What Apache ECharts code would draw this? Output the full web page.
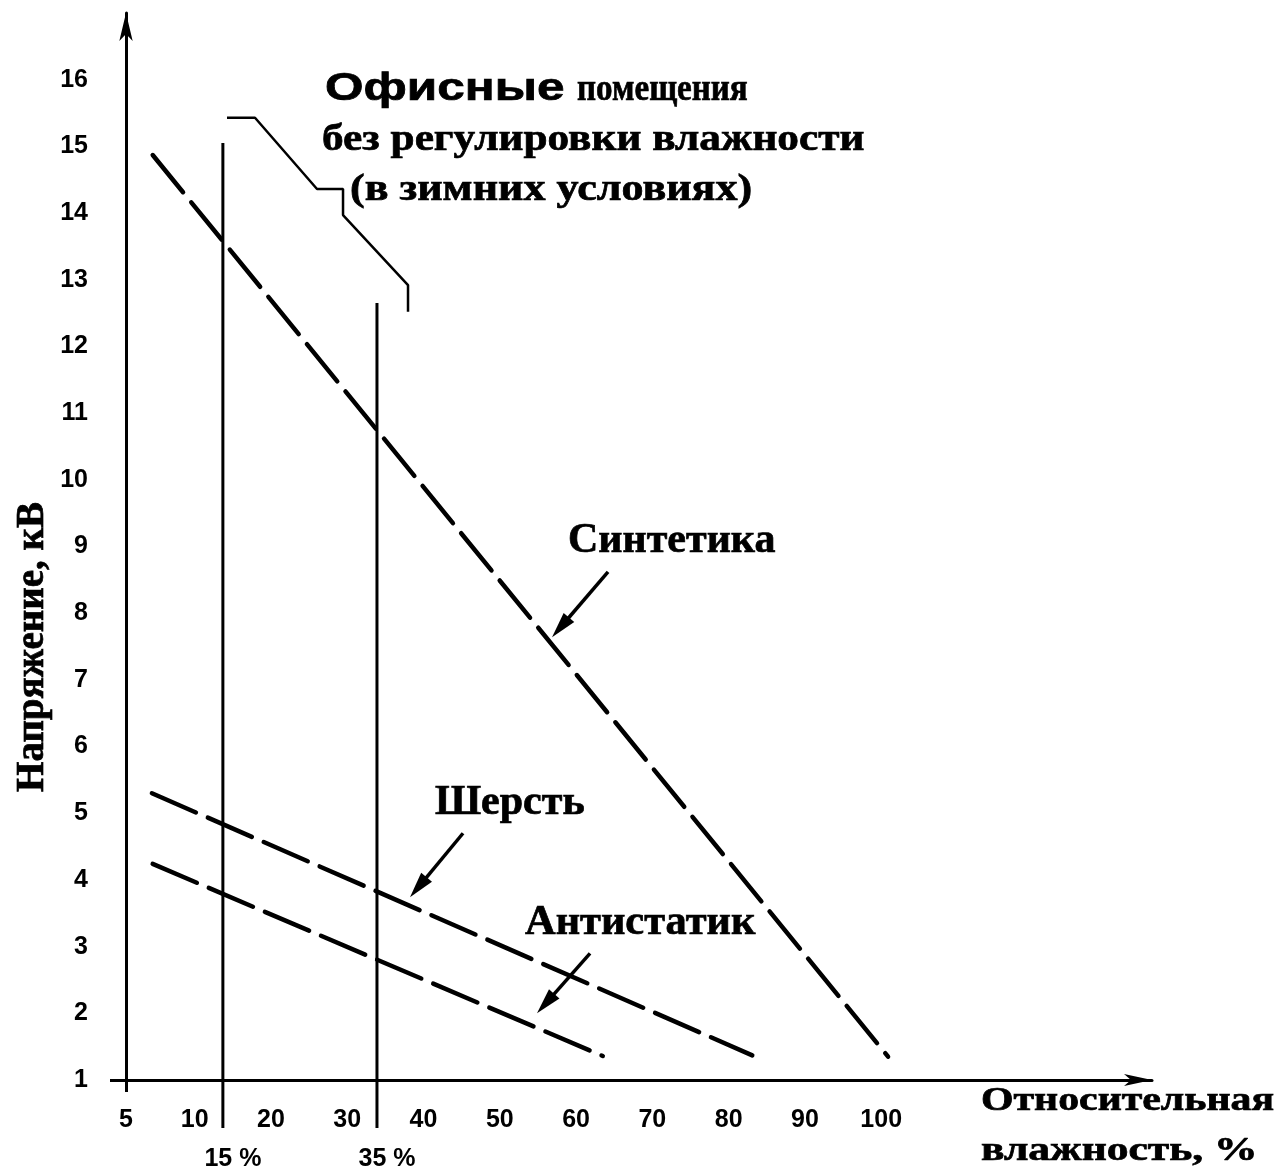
<!DOCTYPE html>
<html><head><meta charset="utf-8">
<script src="https://cdn.jsdelivr.net/npm/echarts@6/dist/echarts.min.js"></script>
<style>html,body{margin:0;padding:0;background:#fff}#c{width:1282px;height:1171px}</style>
</head><body><div id="c"></div>
<script>
// ---- axis ticks ----
const xTickValues = [1, 10, 20, 30, 40, 50, 60, 70, 80, 90, 100];
const xTickLabels = ['5', '10', '20', '30', '40', '50', '60', '70', '80', '90', '100'];
const yTickValues = [1, 2, 3, 4, 5, 6, 7, 8, 9, 10, 11, 12, 13, 14, 15, 16];

// ---- curves (x in axis units, y in kV) ----
const syntheticLine = [[4.5, 14.87], [100.9, 1.35]];
const woolLine = [[4.4, 5.30], [83.1, 1.37]];
const antistaticLine = [[4.5, 4.24], [63.5, 1.36]];

// ---- humidity markers ----
const markerLabels = ['15 %', '35 %'];
const markerX = [13.7, 33.9];
const markerTop = [15.05, 12.65];
const markerBottom = 0.28;

// ---- office bracket ----
const bracketLine = [[14.24, 15.43], [17.91, 15.43], [26.04, 14.36], [29.45, 14.36], [29.45, 13.97], [37.97, 12.92], [37.97, 12.52]];

// ---- pointer arrows (tail -> tip) ----
const arrowNames = ['Синтетика', 'Шерсть', 'Антистатик'];
const arrowTails = [[64.19, 8.62], [45.18, 4.70], [61.83, 2.90]];
const arrowTips = [[56.85, 7.64], [38.23, 3.74], [54.88, 2.00]];

const SERIF = "'Liberation Serif','Times New Roman',serif";
const SANS = "'Liberation Sans',Arial,sans-serif";

const chart = echarts.init(document.getElementById('c'), null, {renderer: 'canvas'});

const dashStyle = {color: '#000', width: 4.5, type: [48, 13], cap: 'round'};
function dashed(name, data) {
  return {name, type: 'line', data, showSymbol: false, symbol: 'none', lineStyle: dashStyle, silent: true, animation: false, z: 3};
}

const series = [
  dashed('Синтетика', syntheticLine),
  dashed('Шерсть', woolLine),
  dashed('Антистатик', antistaticLine)
];
markerX.forEach((x, i) => {
  series.push({name: markerLabels[i], type: 'line', clip: false, showSymbol: false, symbol: 'none', silent: true, animation: false,
    data: [[x, markerTop[i]], [x, markerBottom]], lineStyle: {color: '#000', width: 3}});
});
series.push({name: 'bracket', type: 'line', clip: false, showSymbol: false, symbol: 'none', silent: true, animation: false,
  data: bracketLine, lineStyle: {color: '#000', width: 2.5}});
series.push({
  name: 'arrows', type: 'custom', coordinateSystem: 'cartesian2d', clip: false, silent: true, animation: false,
  data: arrowTails.map((t, i) => [t[0], t[1], arrowTips[i][0], arrowTips[i][1]]),
  encode: {x: [0, 2], y: [1, 3]},
  renderItem: function (params, api) {
    const a = api.coord([api.value(0), api.value(1)]);
    const b = api.coord([api.value(2), api.value(3)]);
    const dx = b[0] - a[0], dy = b[1] - a[1];
    const L = Math.hypot(dx, dy);
    const ux = dx / L, uy = dy / L, px = -uy, py = ux;
    const headLen = 26, headW = 7;
    const base = [b[0] - ux * headLen, b[1] - uy * headLen];
    return {type: 'group', children: [
      {type: 'line', shape: {x1: a[0], y1: a[1], x2: base[0] + ux * 4, y2: base[1] + uy * 4}, style: {stroke: '#000', lineWidth: 3.5}},
      {type: 'polygon', shape: {points: [b, [base[0] + px * headW, base[1] + py * headW], [base[0] - px * headW, base[1] - py * headW]]}, style: {fill: '#000'}}
    ]};
  }
});

function txt(text, x, y, font, sx) {
  return {type: 'text', x, y, scaleX: sx || 1, silent: true,
    style: {text, font, fill: '#000', stroke: '#000', lineWidth: 0.7, align: 'left', verticalAlign: 'middle'}};
}

const graphics = [
  txt('Офисные', 325, 89, 'bold 39px ' + SANS, 1.27),
  txt('помещения', 577, 90, 'bold 38px ' + SERIF, 0.87),
  txt('без регулировки влажности', 322, 140, 'bold 38px ' + SERIF, 1.14),
  txt('(в зимних условиях)', 350, 190, 'bold 38px ' + SERIF, 1.16),
  txt('Синтетика', 568, 541, 'bold 42px ' + SERIF, 1.0),
  txt('Шерсть', 435, 803, 'bold 42px ' + SERIF, 1.0),
  txt('Антистатик', 525, 923, 'bold 42px ' + SERIF, 1.01),
  txt('Относительная', 981, 1101, 'bold 34px ' + SERIF, 1.23),
  txt('влажность, %', 981, 1151, 'bold 34px ' + SERIF, 1.28),
  {type: 'text', x: 33, y: 647, rotation: Math.PI / 2, silent: true,
    style: {text: 'Напряжение, кВ', font: 'bold 39px ' + SERIF, fill: '#000', stroke: '#000', lineWidth: 0.7, align: 'center', verticalAlign: 'middle'}}
];

const markerFont = 'bold 25px ' + SANS;

chart.setOption({
  backgroundColor: '#fff',
  animation: false,
  grid: {left: 126, right: 130, top: 13, bottom: 91, containLabel: false},
  xAxis: {
    type: 'value', min: 1, max: 135.5,
    axisLine: {show: true, onZero: false, symbol: ['none', 'arrow'], symbolSize: [9, 28], lineStyle: {color: '#000', width: 3}},
    axisTick: {show: true, customValues: [1], length: 12, lineStyle: {color: '#000', width: 3}},
    axisLabel: {customValues: xTickValues, margin: 28, color: '#000', fontSize: 25, fontWeight: 'bold', fontFamily: SANS,
      formatter: v => { const i = xTickValues.indexOf(v); return i >= 0 ? xTickLabels[i] : ''; }},
    splitLine: {show: false}
  },
  yAxis: {
    type: 'value', min: 1, max: 17,
    axisLine: {show: true, onZero: false, symbol: ['none', 'arrow'], symbolSize: [10, 28], lineStyle: {color: '#000', width: 3}},
    axisTick: {show: true, customValues: [1], length: 16, lineStyle: {color: '#000', width: 3}},
    axisLabel: {customValues: yTickValues, margin: 38, color: '#000', fontSize: 25, fontWeight: 'bold', fontFamily: SANS},
    splitLine: {show: false}
  },
  series,
  graphic: graphics
});

// humidity-marker captions placed under their lines through the axis scale
const markerGraphics = markerX.map((x, i) => {
  const p = chart.convertToPixel({gridIndex: 0}, [x, 1]);
  return {type: 'text', id: 'm' + i, silent: true, x: p[0] + 10, y: p[1] + 79,
    style: {text: markerLabels[i], font: markerFont, fill: '#000', align: 'center', verticalAlign: 'middle'}};
});
chart.setOption({graphic: graphics.concat(markerGraphics)});
</script>
</body></html>
